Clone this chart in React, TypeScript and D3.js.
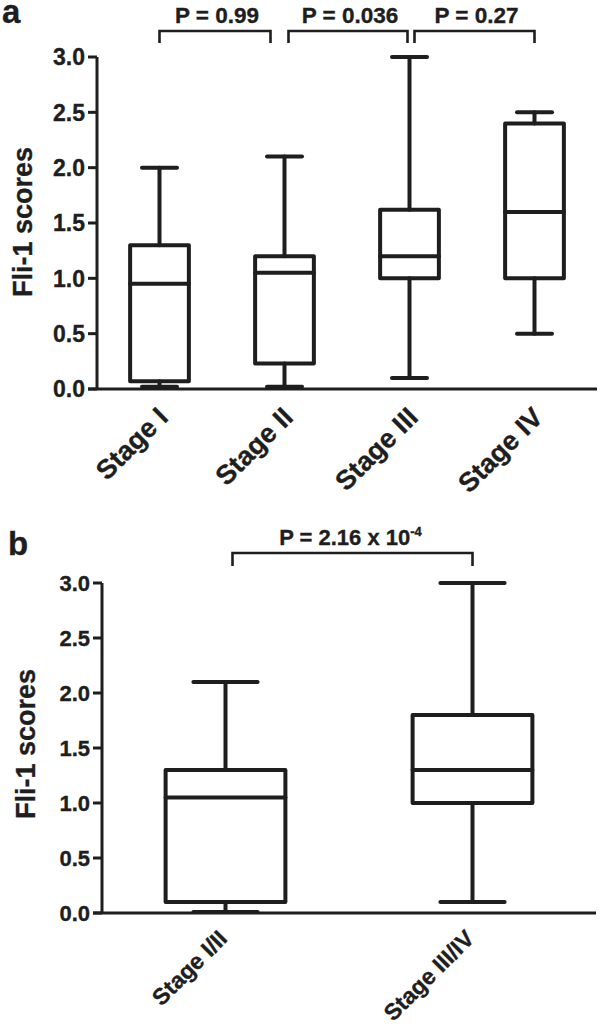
import React from "react";
import * as d3 from "d3";

const stagesA = ["Stage I", "Stage II", "Stage III", "Stage IV"];
const minA = [0.02, 0.02, 0.1, 0.5];
const q1A = [0.07, 0.23, 1.0, 1.0];
const medA = [0.95, 1.05, 1.2, 1.6];
const q3A = [1.3, 1.2, 1.62, 2.4];
const maxA = [2.0, 2.1, 3.0, 2.5];
const pLabelsA = ["P = 0.99", "P = 0.036", "P = 0.27"];

const stagesB = ["Stage I/II", "Stage III/IV"];
const minB = [0.01, 0.1];
const q1B = [0.1, 1.0];
const medB = [1.05, 1.3];
const q3B = [1.3, 1.8];
const maxB = [2.1, 3.0];
const pLabelB = "P = 2.16 x 10";
const pSupB = "-4";

const yTicks = [0, 0.5, 1.0, 1.5, 2.0, 2.5, 3.0];

const INK = "#1e1e1e";
const FONT = "'Liberation Sans', Arial, Helvetica, sans-serif";
const TXT = { fontWeight: "bold" as const, fill: INK, fontFamily: FONT, stroke: INK, strokeWidth: 0.35 };

type PanelProps = {
  cats: string[];
  mins: number[];
  q1s: number[];
  meds: number[];
  q3s: number[];
  maxs: number[];
  x0: number;
  x1: number;
  yTop: number;
  yBot: number;
  boxFrac: number;
  capFrac: number;
  tickFont: number;
  labelFont: number;
  axisLabelFont: number;
  axisLabelX: number;
  axisLabelDy: number;
  labelOffX: number;
  labelOffY: number;
};

function Panel(p: PanelProps) {
  const x = d3.scaleBand<string>().domain(p.cats).range([p.x0, p.x1]).padding(0);
  const y = d3.scaleLinear().domain([0, 3]).range([p.yBot, p.yTop]);
  const bw = x.bandwidth();
  const boxW = bw * p.boxFrac;
  const capW = bw * p.capFrac;
  const cx = (c: string) => (x(c) as number) + bw / 2;
  return (
    <g>
      <line x1={p.x0} x2={p.x0} y1={y(3)} y2={y(0)} stroke={INK} strokeWidth={3} />
      <line x1={p.x0 - 9} x2={p.x1} y1={y(0)} y2={y(0)} stroke={INK} strokeWidth={3} />
      {yTicks.map((t) => (
        <g key={t}>
          <line x1={p.x0 - 9} x2={p.x0} y1={y(t)} y2={y(t)} stroke={INK} strokeWidth={3} />
          <text x={p.x0 - 12} y={y(t)} dy="0.36em" textAnchor="end" fontSize={p.tickFont} {...TXT}>
            {d3.format(".1f")(t)}
          </text>
        </g>
      ))}
      <text
        transform={`translate(${p.axisLabelX},${(y(0) + y(3)) / 2 + p.axisLabelDy}) rotate(-90)`}
        textAnchor="middle"
        fontSize={p.axisLabelFont}
        {...TXT}
      >
        Fli-1 scores
      </text>
      {p.cats.map((c, i) => {
        const xc = cx(c);
        return (
          <g key={c} stroke={INK} strokeWidth={4} fill="none" strokeLinejoin="round" strokeLinecap="round">
            <line x1={xc} x2={xc} y1={y(p.maxs[i])} y2={y(p.q3s[i])} />
            <line x1={xc} x2={xc} y1={y(p.q1s[i])} y2={y(p.mins[i])} />
            <line x1={xc - capW / 2} x2={xc + capW / 2} y1={y(p.maxs[i])} y2={y(p.maxs[i])} />
            <line x1={xc - capW / 2} x2={xc + capW / 2} y1={y(p.mins[i])} y2={y(p.mins[i])} />
            <rect x={xc - boxW / 2} width={boxW} y={y(p.q3s[i])} height={y(p.q1s[i]) - y(p.q3s[i])} />
            <line x1={xc - boxW / 2} x2={xc + boxW / 2} y1={y(p.meds[i])} y2={y(p.meds[i])} />
          </g>
        );
      })}
      {p.cats.map((c) => (
        <text
          key={c + "l"}
          transform={`translate(${cx(c) + p.labelOffX},${y(0) + p.labelOffY}) rotate(-45)`}
          textAnchor="end"
          fontSize={p.labelFont}
          {...TXT}
        >
          {c}
        </text>
      ))}
    </g>
  );
}

export default function App() {
  const xa = d3.scaleBand<string>().domain(stagesA).range([97, 597]);
  const ca = (c: string) => (xa(c) as number) + xa.bandwidth() / 2;
  const bracketsA = [
    [ca(stagesA[0]), ca(stagesA[1]) - 14],
    [ca(stagesA[1]) + 4, ca(stagesA[2]) - 2],
    [ca(stagesA[2]) + 5, ca(stagesA[3])],
  ];
  const xb = d3.scaleBand<string>().domain(stagesB).range([102, 596]);
  const cb = (c: string) => (xb(c) as number) + xb.bandwidth() / 2;
  const bl = cb(stagesB[0]) + 7;
  const br = cb(stagesB[1]);
  return (
    <svg width={600} height={1026} style={{ position: "absolute", left: 0, top: 0, background: "#fff" }}>
      <rect width={600} height={1026} fill="#fff" />
      <text x={2} y={23} fontSize={33} {...TXT}>
        a
      </text>
      <Panel
        cats={stagesA}
        mins={minA}
        q1s={q1A}
        meds={medA}
        q3s={q3A}
        maxs={maxA}
        x0={97}
        x1={597}
        yTop={57}
        yBot={389}
        boxFrac={0.47}
        capFrac={0.28}
        tickFont={23}
        labelFont={27}
        axisLabelFont={27}
        axisLabelX={32}
        axisLabelDy={-1}
        labelOffX={10}
        labelOffY={30}
      />
      {bracketsA.map(([a, b], i) => (
        <g key={i}>
          <path d={`M${a},43V31H${b}V43`} fill="none" stroke={INK} strokeWidth={2.6} />
          <text x={(a + b) / 2 + 2} y={23} textAnchor="middle" fontSize={22.5} {...TXT}>
            {pLabelsA[i]}
          </text>
        </g>
      ))}

      <text x={8} y={555} fontSize={33} {...TXT}>
        b
      </text>
      <Panel
        cats={stagesB}
        mins={minB}
        q1s={q1B}
        meds={medB}
        q3s={q3B}
        maxs={maxB}
        x0={102}
        x1={596}
        yTop={583}
        yBot={913}
        boxFrac={0.485}
        capFrac={0.26}
        tickFont={22}
        labelFont={23}
        axisLabelFont={27}
        axisLabelX={35}
        axisLabelDy={-4}
        labelOffX={3}
        labelOffY={27}
      />
      <path d={`M${bl},566V553H${br}V566`} fill="none" stroke={INK} strokeWidth={2.6} />
      <text x={(bl + br) / 2 - 2} y={545} textAnchor="middle" fontSize={22} {...TXT}>
        {pLabelB}
        <tspan fontSize={13} dy={-9}>
          {pSupB}
        </tspan>
      </text>
    </svg>
  );
}
